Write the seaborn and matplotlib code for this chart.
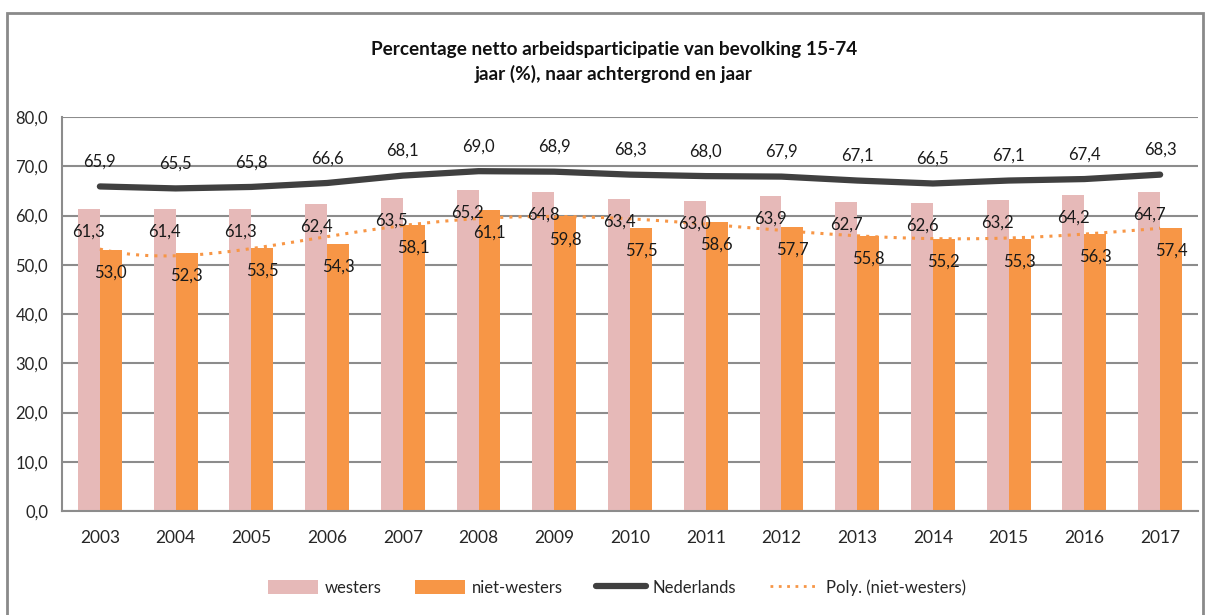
import matplotlib
matplotlib.use("Agg")
import matplotlib.pyplot as plt
import numpy as np
import pandas as pd
import seaborn as sns
from matplotlib.lines import Line2D
from matplotlib.patches import Patch, Rectangle

years = ["2003", "2004", "2005", "2006", "2007", "2008", "2009", "2010",
         "2011", "2012", "2013", "2014", "2015", "2016", "2017"]
westers = [61.3, 61.4, 61.3, 62.4, 63.5, 65.2, 64.8, 63.4,
           63.0, 63.9, 62.7, 62.6, 63.2, 64.2, 64.7]
niet_westers = [53.0, 52.3, 53.5, 54.3, 58.1, 61.1, 59.8, 57.5,
                58.6, 57.7, 55.8, 55.2, 55.3, 56.3, 57.4]
nederlands = [65.9, 65.5, 65.8, 66.6, 68.1, 69.0, 68.9, 68.3,
              68.0, 67.9, 67.1, 66.5, 67.1, 67.4, 68.3]

C_WEST = "#E6B9B8"
C_NW = "#F79646"
C_NL = "#404040"
GRID = "#8C8C8C"


def fmt(v):
    return f"{v:.1f}".replace(".", ",")


sns.set_style("white")
plt.rcParams["font.family"] = ["Lato", "DejaVu Sans"]

df = pd.DataFrame({
    "jaar": years * 2,
    "groep": ["westers"] * len(years) + ["niet-westers"] * len(years),
    "waarde": westers + niet_westers,
})

fig = plt.figure(figsize=(12.06, 6.15), dpi=100)
fig.patch.set_facecolor("white")
ax = fig.add_axes([62 / 1206, 104 / 615, 1136 / 1206, 394 / 615])

sns.barplot(data=df, x="jaar", y="waarde", hue="groep", order=years,
            hue_order=["westers", "niet-westers"],
            palette=[C_WEST, C_NW], width=0.58, gap=0, saturation=1,
            errorbar=None, legend=False, ax=ax, zorder=2, linewidth=0)

xs = np.arange(len(years))
sns.lineplot(x=xs, y=nederlands, color=C_NL, linewidth=4.5, ax=ax,
             zorder=4, solid_capstyle="round")

# polynomial trendline (Excel style) for niet-westers
coef = np.polyfit(xs + 1, niet_westers, 6)
xt = np.linspace(1, len(years), 300)
ax.plot(xt - 1, np.polyval(coef, xt), color=C_NW, linewidth=2.2,
        linestyle=(0, (1, 2)), zorder=5)

# value labels
bw = 0.29
for i in range(len(years)):
    ax.text(i - bw / 2, westers[i] - 4.6, fmt(westers[i]), ha="center",
            va="center", fontsize=12, color="#1a1a1a", zorder=6)
    ax.text(i + bw / 2, niet_westers[i] - 4.6, fmt(niet_westers[i]), ha="center",
            va="center", fontsize=12, color="#1a1a1a", zorder=6)
    ax.text(i, nederlands[i] + 5, fmt(nederlands[i]), ha="center",
            va="center", fontsize=12, color="#1a1a1a", zorder=6)

ax.set_xlim(-0.5, len(years) - 0.5)
ax.set_ylim(0, 80)
ax.set_yticks(np.arange(0, 81, 10))
ax.set_yticklabels([fmt(v) for v in np.arange(0, 81, 10)], fontsize=12)
ax.set_xticks(xs)
ax.set_xticklabels(years, fontsize=12.5)
ax.set_xticks(np.arange(-0.5, len(years), 1), minor=True)
ax.tick_params(axis="x", which="major", length=0, pad=14)
ax.tick_params(axis="x", which="minor", length=6, color=GRID, width=1.2)
ax.tick_params(axis="y", length=6, color=GRID, width=1.2, pad=4)
ax.set_xlabel("")
ax.set_ylabel("")
ax.grid(axis="y", color=GRID, linewidth=1.5, zorder=0)
ax.set_axisbelow(True)
for s in ["top", "right"]:
    ax.spines[s].set_visible(False)
for s in ["left", "bottom"]:
    ax.spines[s].set_color(GRID)
    ax.spines[s].set_linewidth(1.5)

fig.text(0.509, 0.899, "Percentage netto arbeidsparticipatie van bevolking 15-74\njaar (%), naar achtergrond en jaar",
         ha="center", va="center", fontsize=13.7, fontweight="bold",
         linespacing=1.45, color="#111111")

handles = [
    Patch(facecolor=C_WEST, edgecolor="none"),
    Patch(facecolor=C_NW, edgecolor="none"),
    Line2D([0], [0], color=C_NL, linewidth=4.5),
    Line2D([0], [0], color=C_NW, linewidth=2, linestyle=(0, (1, 2))),
]
labels = ["westers", "niet-westers", "Nederlands", "Poly. (niet-westers)"]
fig.legend(handles, labels, loc="center", bbox_to_anchor=(0.512, 0.045),
           ncol=4, frameon=False, fontsize=12, handlelength=3.0,
           handleheight=0.9, columnspacing=2.0, handletextpad=0.4)

fig.patches.append(Rectangle((7 / 1206, -0.01), 1196 / 1206, 1 - 13 / 615 + 0.01,
                             transform=fig.transFigure, fill=False,
                             edgecolor="#8a8a8a", linewidth=2))

fig.savefig("out.png", dpi=100)
